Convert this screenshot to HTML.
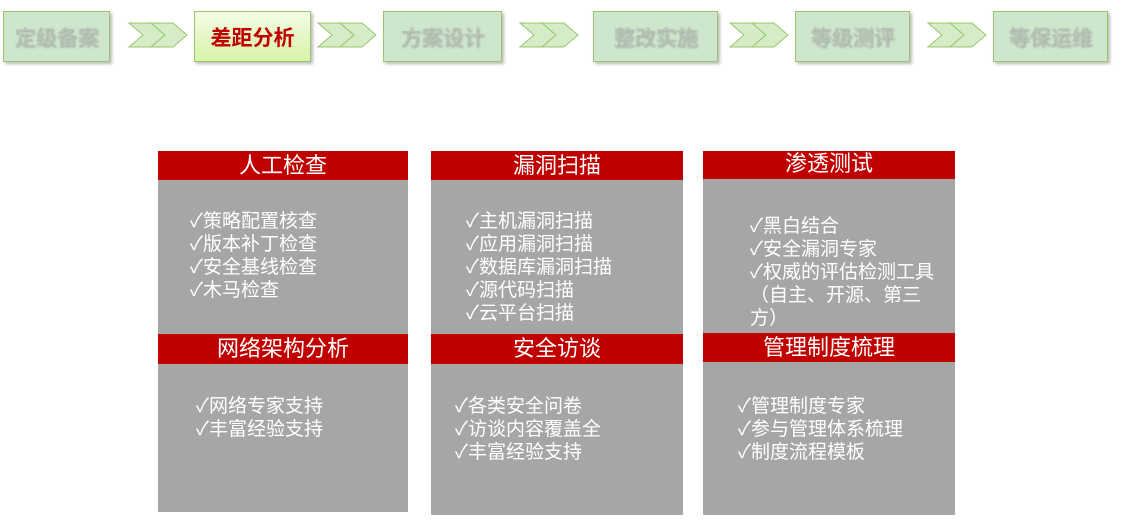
<!DOCTYPE html>
<html><head><meta charset="utf-8"><style>
body{margin:0;width:1121px;height:530px;background:#fff;position:relative;overflow:hidden;font-family:"Liberation Sans","Noto Sans CJK SC",sans-serif}
.s{position:absolute;top:11px;height:51px;background:#cde6cc;border:1px solid #9cc46a;box-shadow:2px 2px 3px #bbb;color:#b5c5b4;font-size:21px;display:flex;align-items:center;justify-content:center;text-shadow:1px 1px 2px #999;box-sizing:border-box}
.a{background:linear-gradient(#f3fce6,#d8f3a8);color:#c00000;font-weight:bold;text-shadow:none}
.h{position:absolute;background:#c00000;color:#fff;font-size:22px;text-align:center;height:29px;line-height:29px}
.g{position:absolute;background:#a6a6a6;color:#fff;font-size:19px;line-height:23px}
svg{position:absolute;top:21px}
</style></head><body>
<div class="s" style="left:3px;width:107px">定级备案</div>
<div class="s a" style="left:194px;width:117px">差距分析</div>
<div class="s" style="left:383px;width:119px">方案设计</div>
<div class="s" style="left:593px;width:125px">整改实施</div>
<div class="s" style="left:795px;width:115px">等级测评</div>
<div class="s" style="left:993px;width:115px">等保运维</div>
<svg width="1121" height="30" style="left:0">
<defs><g id="c"><path d="M0 2h22l14 12-14 12h-22l14-12z"/><path d="M22 2h22l14 12-14 12h-22l14-12z"/></g></defs>
<g fill="#d5ecc8" stroke="#9cc46a" stroke-width="1">
<use href="#c" x="129"/><use href="#c" x="318"/><use href="#c" x="520"/><use href="#c" x="730"/><use href="#c" x="928"/>
</g></svg>

<div class="g" style="left:158px;top:151px;width:250px;height:361px"></div>
<div class="g" style="left:431px;top:151px;width:252px;height:364px"></div>
<div class="g" style="left:703px;top:151px;width:252px;height:364px"></div>

<div class="h" style="left:158px;top:151px;width:250px">人工检查</div>
<div class="h" style="left:431px;top:151px;width:252px">漏洞扫描</div>
<div class="h" style="left:703px;top:151px;width:252px;height:28px;line-height:26px">渗透测试</div>
<div class="h" style="left:158px;top:334px;width:250px;height:30px">网络架构分析</div>
<div class="h" style="left:431px;top:334px;width:252px;height:30px">安全访谈</div>
<div class="h" style="left:703px;top:333px;width:252px">管理制度梳理</div>

<div class="g" style="left:190px;top:210px;background:none">✓策略配置核查<br>✓版本补丁检查<br>✓安全基线检查<br>✓木马检查</div>
<div class="g" style="left:466px;top:210px;background:none">✓主机漏洞扫描<br>✓应用漏洞扫描<br>✓数据库漏洞扫描<br>✓源代码扫描<br>✓云平台扫描</div>
<div class="g" style="left:750px;top:215px;width:190px;background:none">✓黑白结合<br>✓安全漏洞专家<br>✓权威的评估检测工具<br>（自主、开源、第三<br>方）</div>
<div class="g" style="left:196px;top:395px;background:none">✓网络专家支持<br>✓丰富经验支持</div>
<div class="g" style="left:455px;top:395px;background:none">✓各类安全问卷<br>✓访谈内容覆盖全<br>✓丰富经验支持</div>
<div class="g" style="left:738px;top:395px;background:none">✓管理制度专家<br>✓参与管理体系梳理<br>✓制度流程模板</div>
</body></html>
